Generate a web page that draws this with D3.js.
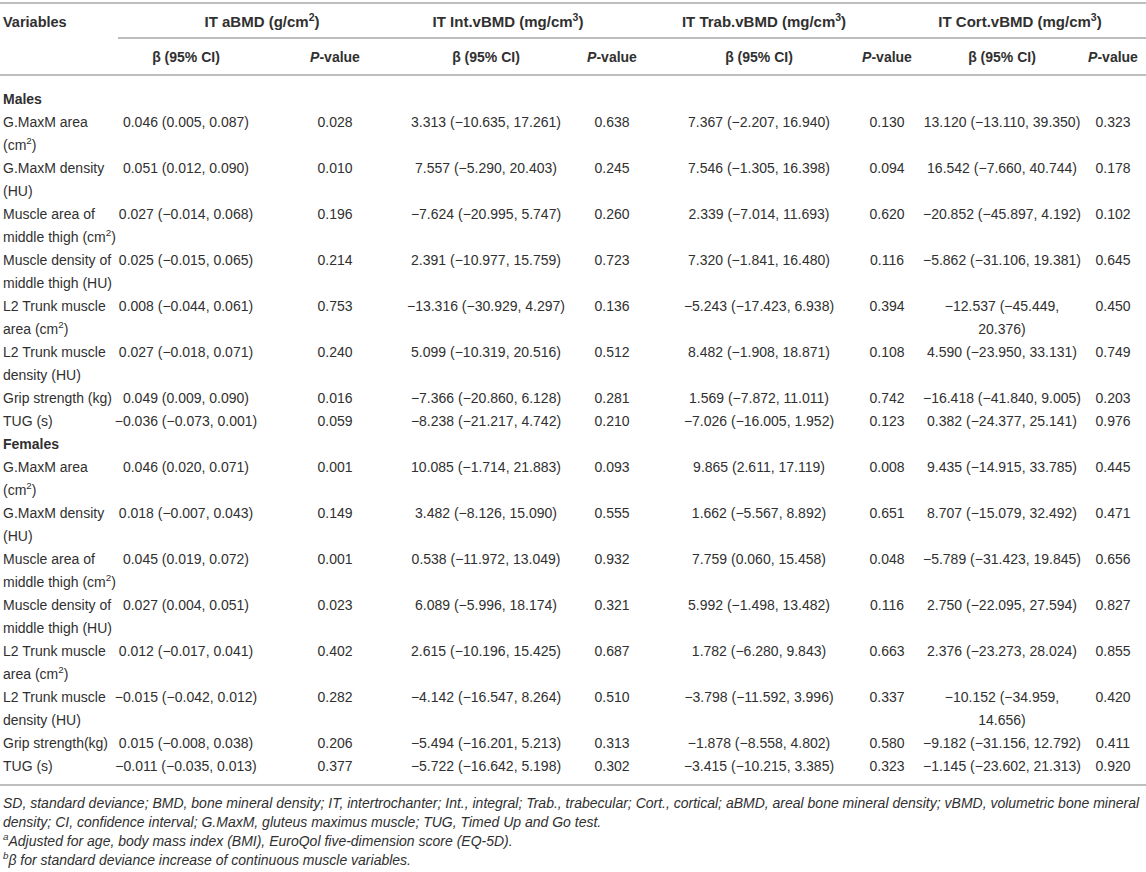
<!DOCTYPE html>
<html>
<head>
<meta charset="utf-8">
<script src="https://cdn.jsdelivr.net/npm/d3@7"></script>
<style>
  body { margin: 0; background: #fff; }
  svg text { font-family: "Liberation Sans", Arial, Helvetica, sans-serif; fill: #303030; }
</style>
</head>
<body>
<svg id="table"></svg>
<script>
// Table content
const outcomes = ["IT aBMD (g/cm^2)", "IT Int.vBMD (mg/cm^3)", "IT Trab.vBMD (mg/cm^3)", "IT Cort.vBMD (mg/cm^3)"];
const subHeaders = ["β (95% CI)", "P-value"];
const sections = ["Males", "Females"];

const maleVariables = [
  "G.MaxM area\n(cm^2)", "G.MaxM density\n(HU)", "Muscle area of\nmiddle thigh (cm^2)",
  "Muscle density of\nmiddle thigh (HU)", "L2 Trunk muscle\narea (cm^2)", "L2 Trunk muscle\ndensity (HU)",
  "Grip strength (kg)", "TUG (s)"
];
const femaleVariables = [
  "G.MaxM area\n(cm^2)", "G.MaxM density\n(HU)", "Muscle area of\nmiddle thigh (cm^2)",
  "Muscle density of\nmiddle thigh (HU)", "L2 Trunk muscle\narea (cm^2)", "L2 Trunk muscle\ndensity (HU)",
  "Grip strength(kg)", "TUG (s)"
];

// each entry: [beta, lower 95% CI, upper 95% CI, P]
const maleABMD = [
  [0.046, 0.005, 0.087, 0.028], [0.051, 0.012, 0.090, 0.010], [0.027, -0.014, 0.068, 0.196],
  [0.025, -0.015, 0.065, 0.214], [0.008, -0.044, 0.061, 0.753], [0.027, -0.018, 0.071, 0.240],
  [0.049, 0.009, 0.090, 0.016], [-0.036, -0.073, 0.001, 0.059]
];
const maleIntVBMD = [
  [3.313, -10.635, 17.261, 0.638], [7.557, -5.290, 20.403, 0.245], [-7.624, -20.995, 5.747, 0.260],
  [2.391, -10.977, 15.759, 0.723], [-13.316, -30.929, 4.297, 0.136], [5.099, -10.319, 20.516, 0.512],
  [-7.366, -20.860, 6.128, 0.281], [-8.238, -21.217, 4.742, 0.210]
];
const maleTrabVBMD = [
  [7.367, -2.207, 16.940, 0.130], [7.546, -1.305, 16.398, 0.094], [2.339, -7.014, 11.693, 0.620],
  [7.320, -1.841, 16.480, 0.116], [-5.243, -17.423, 6.938, 0.394], [8.482, -1.908, 18.871, 0.108],
  [1.569, -7.872, 11.011, 0.742], [-7.026, -16.005, 1.952, 0.123]
];
const maleCortVBMD = [
  [13.120, -13.110, 39.350, 0.323], [16.542, -7.660, 40.744, 0.178], [-20.852, -45.897, 4.192, 0.102],
  [-5.862, -31.106, 19.381, 0.645], [-12.537, -45.449, 20.376, 0.450], [4.590, -23.950, 33.131, 0.749],
  [-16.418, -41.840, 9.005, 0.203], [0.382, -24.377, 25.141, 0.976]
];
const femaleABMD = [
  [0.046, 0.020, 0.071, 0.001], [0.018, -0.007, 0.043, 0.149], [0.045, 0.019, 0.072, 0.001],
  [0.027, 0.004, 0.051, 0.023], [0.012, -0.017, 0.041, 0.402], [-0.015, -0.042, 0.012, 0.282],
  [0.015, -0.008, 0.038, 0.206], [-0.011, -0.035, 0.013, 0.377]
];
const femaleIntVBMD = [
  [10.085, -1.714, 21.883, 0.093], [3.482, -8.126, 15.090, 0.555], [0.538, -11.972, 13.049, 0.932],
  [6.089, -5.996, 18.174, 0.321], [2.615, -10.196, 15.425, 0.687], [-4.142, -16.547, 8.264, 0.510],
  [-5.494, -16.201, 5.213, 0.313], [-5.722, -16.642, 5.198, 0.302]
];
const femaleTrabVBMD = [
  [9.865, 2.611, 17.119, 0.008], [1.662, -5.567, 8.892, 0.651], [7.759, 0.060, 15.458, 0.048],
  [5.992, -1.498, 13.482, 0.116], [1.782, -6.280, 9.843, 0.663], [-3.798, -11.592, 3.996, 0.337],
  [-1.878, -8.558, 4.802, 0.580], [-3.415, -10.215, 3.385, 0.323]
];
const femaleCortVBMD = [
  [9.435, -14.915, 33.785, 0.445], [8.707, -15.079, 32.492, 0.471], [-5.789, -31.423, 19.845, 0.656],
  [2.750, -22.095, 27.594, 0.827], [2.376, -23.273, 28.024, 0.855], [-10.152, -34.959, 14.656, 0.420],
  [-9.182, -31.156, 12.792, 0.411], [-1.145, -23.602, 21.313, 0.920]
];

const footnotes = [
  "SD, standard deviance; BMD, bone mineral density; IT, intertrochanter; Int., integral; Trab., trabecular; Cort., cortical; aBMD, areal bone mineral density; vBMD, volumetric bone mineral",
  "density; CI, confidence interval; G.MaxM, gluteus maximus muscle; TUG, Timed Up and Go test.",
  "^aAdjusted for age, body mass index (BMI), EuroQol five-dimension score (EQ-5D).",
  "^bβ for standard deviance increase of continuous muscle variables."
];

// ---- layout ----
const width = 1146, height = 872;
const fontSize = 14;
const varColWidth = 118;
const maxCellWidth = 162;   // wider beta cells break after the comma

const colKeys = ["b0", "p0", "b1", "p1", "b2", "p2", "b3", "p3"];
const colX = d3.scaleOrdinal()
    .domain(colKeys)
    .range([186, 335, 486, 612, 759, 887, 1002, 1113]);
const groupX = d3.scaleOrdinal()
    .domain(outcomes)
    .range([262, 508, 764, 1020]);

const fmt = d3.format(".3f");

// build body rows: each one takes a number of text lines
const bodyRows = [];
let lineIdx = 0;
const sectionData = [
  {name: sections[0], vars: maleVariables, cols: [maleABMD, maleIntVBMD, maleTrabVBMD, maleCortVBMD]},
  {name: sections[1], vars: femaleVariables, cols: [femaleABMD, femaleIntVBMD, femaleTrabVBMD, femaleCortVBMD]}
];
sectionData.forEach(s => {
  bodyRows.push({type: "section", label: s.name, line: lineIdx});
  lineIdx += 1;
  s.vars.forEach((v, i) => {
    const lines = v.split("\n");
    bodyRows.push({type: "row", lines: lines, line: lineIdx, values: s.cols.map(c => c[i])});
    lineIdx += lines.length;
  });
});

const yLine = d3.scaleLinear()
    .domain([0, lineIdx - 1])
    .range([99, 99 + (lineIdx - 1) * 23]);

const svg = d3.select("#table")
    .attr("width", width)
    .attr("height", height);

// write text with ^x superscripts
function rich(textSel, str, size) {
  const parts = str.split(/\^(.)/);
  let back = 0;
  parts.forEach((p, i) => {
    if (!p) return;
    if (i % 2 === 1) {
      textSel.append("tspan")
          .attr("font-size", size * 0.7)
          .attr("dy", -size * 0.4)
          .text(p);
      back = size * 0.4;
    } else {
      textSel.append("tspan")
          .attr("dy", back)
          .text(p);
      back = 0;
    }
  });
  return textSel;
}

// baseline offset from a line's vertical centre
const base = fontSize * 0.36;

// horizontal rules
const rules = [
  {x1: 0, x2: width, y: 3},
  {x1: varColWidth, x2: width, y: 38},
  {x1: 0, x2: width, y: 75},
  {x1: 0, x2: width, y: 785}
];
svg.selectAll(".rule")
    .data(rules)
    .enter()
  .append("line")
    .attr("class", "rule")
    .attr("x1", d => d.x1)
    .attr("x2", d => d.x2)
    .attr("y1", d => d.y)
    .attr("y2", d => d.y)
    .attr("stroke", "#a8a8a8")
    .attr("stroke-width", 1.6);

// header
const header = svg.append("g")
    .attr("font-size", fontSize)
    .attr("font-weight", "bold");

header.append("text")
    .attr("x", 3)
    .attr("y", 22 + base)
    .attr("font-size", 14.5)
    .text("Variables");

outcomes.forEach((o, i) => {
  rich(header.append("text")
      .attr("x", groupX(o))
      .attr("y", 22 + base)
      .attr("font-size", 15)
      .attr("text-anchor", "middle"), o, 15);

  header.append("text")
      .attr("x", colX("b" + i))
      .attr("y", 57 + base)
      .attr("text-anchor", "middle")
      .text(subHeaders[0]);

  const pv = header.append("text")
      .attr("x", colX("p" + i))
      .attr("y", 57 + base)
      .attr("text-anchor", "middle");
  pv.append("tspan").attr("font-style", "italic").text("P");
  pv.append("tspan").text("-value");
});

// body
const body = svg.append("g")
    .attr("font-size", fontSize);

bodyRows.forEach(r => {
  if (r.type === "section") {
    body.append("text")
        .attr("x", 3)
        .attr("y", yLine(r.line) + base)
        .attr("font-weight", "bold")
        .text(r.label);
    return;
  }
  r.lines.forEach((ln, k) => {
    rich(body.append("text")
        .attr("x", 3)
        .attr("y", yLine(r.line + k) + base), ln, fontSize);
  });
  r.values.forEach((v, i) => {
    const ci = `${fmt(v[0])} (${fmt(v[1])}, ${fmt(v[2])})`;
    const t = body.append("text")
        .attr("x", colX("b" + i))
        .attr("y", yLine(r.line) + base)
        .attr("text-anchor", "middle")
        .text(ci);
    // wrap after the comma if the cell is too wide
    if (t.node().getComputedTextLength() > maxCellWidth) {
      const cut = ci.indexOf(", ") + 1;
      t.text(null);
      t.append("tspan").attr("x", colX("b" + i)).text(ci.slice(0, cut));
      t.append("tspan").attr("x", colX("b" + i)).attr("dy", 23).text(ci.slice(cut + 1));
    }
    body.append("text")
        .attr("x", colX("p" + i))
        .attr("y", yLine(r.line) + base)
        .attr("text-anchor", "middle")
        .text(fmt(v[3]));
  });
});

// footnotes
const noteSize = 14;
const noteY = d3.scaleLinear().domain([0, footnotes.length - 1]).range([803, 860]);
const notes = svg.append("g")
    .attr("font-size", noteSize)
    .attr("font-style", "italic");
footnotes.forEach((f, i) => {
  rich(notes.append("text")
      .attr("x", 3)
      .attr("y", noteY(i) + noteSize * 0.36), f, noteSize);
});
</script>
</body>
</html>
